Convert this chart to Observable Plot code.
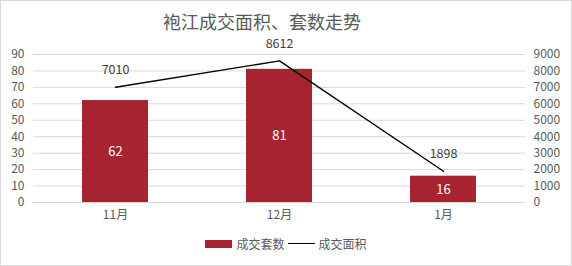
<!DOCTYPE html>
<html>
<head>
<meta charset="utf-8">
<script src="https://cdn.jsdelivr.net/npm/d3@7"></script>
<script src="https://cdn.jsdelivr.net/npm/@observablehq/plot@0.6"></script>
<style>
  html, body { margin: 0; padding: 0; background: #fff; }
  #wrap { position: relative; width: 572px; height: 266px; box-sizing: border-box; border: 1px solid #d9d9d9; background: #fff; font-family: "Noto Sans CJK SC", "Microsoft YaHei", sans-serif; overflow: hidden; }
  #title { position: absolute; top: 11px; left: 0; width: 522px; text-align: center; font-size: 18px; color: #595959; line-height: 19px; }
  #chart { position: absolute; top: 29px; left: 0; }
  #legend { position: absolute; top: 234px; left: 0; width: 570px; display: flex; justify-content: center; align-items: center; font-size: 12px; color: #595959; box-sizing: border-box; }
  #legend .sw { display: inline-block; width: 27px; height: 8px; background: #a6232f; margin-right: 4px; }
  #legend .ln { display: inline-block; width: 27px; height: 0; border-top: 1.5px solid #000; margin: 0 4px 0 3px; }
</style>
</head>
<body>
<div id="wrap">
  <div id="title">袍江成交面积、套数走势</div>
  <div id="chart"></div>
  <div id="legend"><span class="sw"></span><span>成交套数</span><span class="ln"></span><span>成交面积</span></div>
</div>
<script>
const months = ["11月", "12月", "1月"];
const units = [62, 81, 16];          // 成交套数 (left axis)
const area = [7010, 8612, 1898];     // 成交面积 (right axis)
const leftTicks = [0, 10, 20, 30, 40, 50, 60, 70, 80, 90];
const ratio = 100; // right axis 0-9000 mapped onto left 0-90

const data = months.map((m, i) => ({month: m, units: units[i], area: area[i], areaScaled: area[i] / ratio}));

const font = '"Noto Sans CJK SC", "Microsoft YaHei", sans-serif';
const chart = Plot.plot({
  width: 570,
  height: 199,
  marginTop: 24,
  marginBottom: 27,
  marginLeft: 32,
  marginRight: 46,
  style: {fontFamily: font, fontSize: "12px", color: "#595959", background: "transparent", overflow: "visible"},
  x: {domain: months, paddingInner: 0.6, paddingOuter: 0.3, label: null},
  y: {domain: [0, 90], label: null},
  marks: [
    Plot.gridY(leftTicks, {stroke: "#d9d9d9", strokeOpacity: 1}),
    Plot.axisY(leftTicks, {anchor: "left", tickSize: 0, tickPadding: 9, label: null, fill: "#595959", fontSize: 12}),
    Plot.axisY(leftTicks, {anchor: "right", tickSize: 0, tickPadding: 8, label: null, fill: "#595959", fontSize: 12, textAnchor: "start", tickFormat: d => String(d * ratio)}),
    Plot.axisX({tickSize: 0, tickPadding: 8, label: null, fill: "#595959", fontSize: 12}),
    Plot.barY(data, {x: "month", y: "units", fill: "#a6232f"}),
    Plot.text(data, {x: "month", y: d => d.units / 2, text: d => String(d.units), fill: "#fff", fontSize: 13}),
    Plot.line(data, {x: "month", y: "areaScaled", stroke: "#000", strokeWidth: 1.4}),
    Plot.text(data, {x: "month", y: "areaScaled", text: d => String(d.area), dy: -17, fill: "#404040", fontSize: 12.5})
  ]
});
document.getElementById("chart").appendChild(chart);
</script>
</body>
</html>
